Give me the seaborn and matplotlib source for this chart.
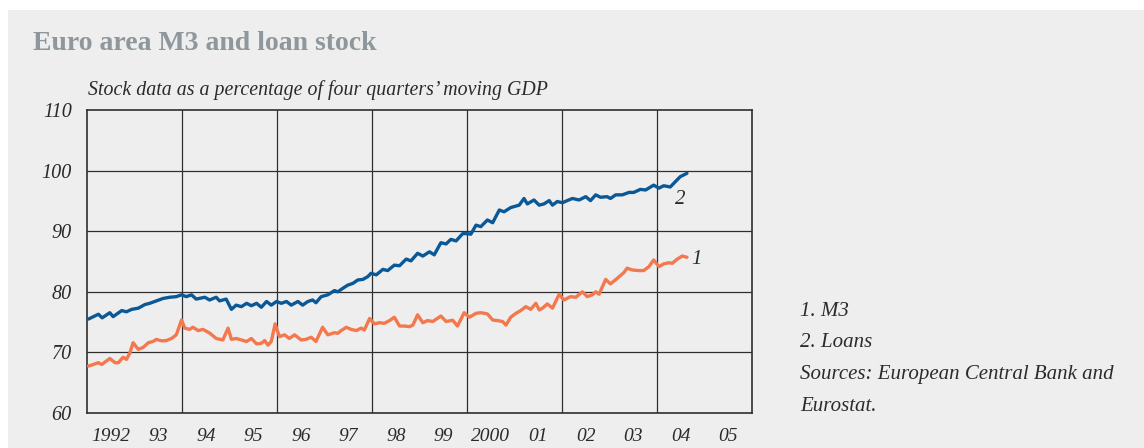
import numpy as np
import pandas as pd
import matplotlib
matplotlib.use("Agg")
import matplotlib.pyplot as plt
import seaborn as sns
from matplotlib.patches import Rectangle

# ---------------- data ----------------
loans_t = [1992.03, 1992.24, 1992.32, 1992.48, 1992.55, 1992.73, 1992.83, 1992.94, 1993.08,
           1993.22, 1993.32, 1993.46, 1993.60, 1993.74, 1993.88, 1993.99, 1994.09, 1994.20,
           1994.30, 1994.48, 1994.58, 1994.72, 1994.79, 1994.93, 1995.04, 1995.14, 1995.25,
           1995.36, 1995.46, 1995.57, 1995.67, 1995.78, 1995.88, 1995.99, 1996.09, 1996.20,
           1996.30, 1996.44, 1996.54, 1996.65, 1996.75, 1996.82, 1996.93, 1997.07, 1997.21,
           1997.28, 1997.39, 1997.49, 1997.60, 1997.70, 1997.81, 1997.91, 1997.98, 1998.09,
           1998.23, 1998.33, 1998.47, 1998.58, 1998.72, 1998.82, 1998.96, 1999.07, 1999.21,
           1999.31, 1999.45, 1999.56, 1999.66, 1999.77, 1999.91, 2000.01, 2000.08, 2000.19,
           2000.29, 2000.43, 2000.54, 2000.68, 2000.78, 2000.92, 2001.03, 2001.10, 2001.20,
           2001.27, 2001.41, 2001.52, 2001.62, 2001.73, 2001.80, 2001.90, 2002.01, 2002.11,
           2002.22, 2002.36, 2002.50, 2002.60, 2002.71, 2002.81, 2002.95, 2003.02, 2003.13,
           2003.27, 2003.41, 2003.51, 2003.65, 2003.76, 2003.93, 2004.04, 2004.14, 2004.28,
           2004.39, 2004.49, 2004.63]
loans_v = [75.5, 76.3, 75.7, 76.55, 75.9, 76.9, 76.7, 77.1, 77.3,
           77.9, 78.1, 78.5, 78.9, 79.1, 79.2, 79.5, 79.2, 79.5,
           78.8, 79.1, 78.65, 79.1, 78.5, 78.8, 77.1, 77.8, 77.55,
           78.1, 77.7, 78.1, 77.45, 78.4, 77.8, 78.4, 78.1, 78.4,
           77.8, 78.4, 77.8, 78.4, 78.65, 78.2, 79.2, 79.5, 80.2,
           80.0, 80.6, 81.1, 81.4, 81.95, 82.05, 82.5, 83.05, 82.8,
           83.7, 83.5, 84.4, 84.3, 85.4, 85.1, 86.35, 85.9, 86.6,
           86.1, 88.1, 87.9, 88.65, 88.4, 89.6, 89.6, 89.5, 91.0,
           90.75, 91.85, 91.4, 93.5, 93.2, 93.9, 94.15, 94.3, 95.4,
           94.5, 95.15, 94.3, 94.5, 95.05, 94.3, 94.9, 94.7, 95.05,
           95.4, 95.15, 95.7, 95.05, 96.0, 95.6, 95.7, 95.4, 96.0,
           96.0, 96.4, 96.4, 96.9, 96.8, 97.6, 97.1, 97.5, 97.3,
           98.2, 99.0, 99.55]

m3_t = [1992.03, 1992.13, 1992.24, 1992.31, 1992.48, 1992.59, 1992.66, 1992.76, 1992.83,
        1992.90, 1992.97, 1993.08, 1993.18, 1993.29, 1993.39, 1993.46, 1993.57, 1993.67,
        1993.78, 1993.88, 1993.99, 1994.06, 1994.16, 1994.23, 1994.34, 1994.44, 1994.58,
        1994.72, 1994.86, 1994.97, 1995.04, 1995.14, 1995.25, 1995.36, 1995.46, 1995.57,
        1995.67, 1995.74, 1995.81, 1995.88, 1995.96, 1996.05, 1996.16, 1996.26, 1996.37,
        1996.51, 1996.61, 1996.72, 1996.82, 1996.96, 1997.07, 1997.21, 1997.28, 1997.35,
        1997.46, 1997.56, 1997.67, 1997.77, 1997.84, 1997.95, 1998.05, 1998.16, 1998.26,
        1998.37, 1998.47, 1998.58, 1998.68, 1998.79, 1998.86, 1998.96, 1999.07, 1999.17,
        1999.28, 1999.45, 1999.56, 1999.70, 1999.80, 1999.94, 2000.05, 2000.19, 2000.29,
        2000.43, 2000.54, 2000.64, 2000.75, 2000.82, 2000.92, 2001.03, 2001.13, 2001.24,
        2001.34, 2001.45, 2001.52, 2001.59, 2001.69, 2001.80, 2001.94, 2002.04, 2002.18,
        2002.29, 2002.43, 2002.53, 2002.64, 2002.71, 2002.78, 2002.92, 2003.02, 2003.16,
        2003.30, 2003.37, 2003.48, 2003.62, 2003.72, 2003.83, 2003.93, 2004.04, 2004.14,
        2004.25, 2004.32, 2004.42, 2004.53, 2004.63]
m3_v = [67.75, 68.0, 68.3, 68.0, 69.0, 68.3, 68.3, 69.2, 68.85,
        69.85, 71.6, 70.5, 70.8, 71.6, 71.8, 72.15, 71.9, 71.95,
        72.3, 72.9, 75.35, 74.0, 73.8, 74.15, 73.6, 73.8, 73.2,
        72.3, 72.05, 74.0, 72.15, 72.3, 72.05, 71.8, 72.3, 71.4,
        71.5, 71.95, 71.2, 71.8, 74.7, 72.6, 72.9, 72.3, 72.9,
        72.05, 72.15, 72.5, 71.8, 74.15, 72.9, 73.25, 73.15, 73.6,
        74.15, 73.8, 73.6, 74.0, 73.7, 75.6, 74.7, 74.9, 74.8,
        75.25, 75.8, 74.35, 74.35, 74.25, 74.5, 76.2, 74.9, 75.25,
        75.1, 76.0, 75.1, 75.3, 74.35, 76.55, 75.8, 76.45, 76.55,
        76.35, 75.35, 75.25, 75.1, 74.5, 75.8, 76.45, 76.9, 77.55,
        77.1, 78.1, 77.0, 77.3, 78.0, 77.3, 79.6, 78.65, 79.2,
        79.1, 80.0, 79.2, 79.5, 80.0, 79.6, 82.05, 81.3, 82.2,
        83.15, 83.9, 83.6, 83.5, 83.5, 84.15, 85.25, 84.15, 84.6,
        84.8, 84.7, 85.35, 85.9, 85.7]

year_labels = ["1992", "93", "94", "95", "96", "97", "98", "99", "2000",
               "01", "02", "03", "04", "05"]
label_years = list(range(1992, 2006))
grid_years = [1994, 1996, 1998, 2000, 2002, 2004]
minor_years = [1993, 1995, 1997, 1999, 2001, 2003, 2005]
y_ticks = [60, 70, 80, 90, 100, 110]

title = "Euro area M3 and loan stock"
subtitle = "Stock data as a percentage of four quarters\u2019 moving GDP"
notes = ["1. M3", "2. Loans", "Sources: European Central Bank and", "Eurostat."]

# ---------------- styling ----------------
sns.set_style("white")
plt.rcParams["font.family"] = ["Liberation Serif", "DejaVu Serif"]

BG = "#EEEEEE"
BLUE = "#0B5896"
ORANGE = "#F4784E"
TXT = "#2B2B2B"

fig = plt.figure(figsize=(11.44, 4.48), dpi=100)
fig.patch.set_facecolor("white")
fig.patches.append(Rectangle((8 / 1144, 0), 1 - 8 / 1144, 1 - 10 / 448,
                             transform=fig.transFigure, facecolor=BG,
                             edgecolor="none", zorder=-10))

ax = fig.add_axes([87 / 1144, 1 - 413 / 448, (752 - 87) / 1144, (413 - 110) / 448])
ax.set_facecolor(BG)

df = pd.concat([
    pd.DataFrame({"t": loans_t, "v": loans_v, "s": "Loans"}),
    pd.DataFrame({"t": m3_t, "v": m3_v, "s": "M3"}),
])
sns.lineplot(data=df, x="t", y="v", hue="s", palette={"Loans": BLUE, "M3": ORANGE},
             linewidth=2.4, ax=ax, legend=False, zorder=3, sort=False)

ax.set_xlim(1992, 2006)
ax.set_ylim(60, 110)
ax.set_xlabel("")
ax.set_ylabel("")

for g in grid_years:
    ax.axvline(g, color="#2F2F2F", lw=0.9, zorder=1)
for yv in y_ticks[1:-1]:
    ax.axhline(yv, color="#2F2F2F", lw=0.9, zorder=1)

ax.set_xticks([y + 0.5 for y in label_years])
ax.set_xticklabels(year_labels, fontsize=14, style="italic", color=TXT)
ax.set_xticks(minor_years, minor=True)
ax.tick_params(axis="x", which="major", length=0, pad=11)
ax.tick_params(axis="x", which="minor", direction="in", length=8, width=0.9, color="#2F2F2F")
ax.set_yticks(y_ticks)
ax.set_yticklabels([str(v) for v in y_ticks], fontsize=14.5, style="italic", color=TXT)
ax.tick_params(axis="y", length=0, pad=11)

for sp in ax.spines.values():
    sp.set_visible(True)
    sp.set_color("#2F2F2F")
    sp.set_linewidth(1.2)

# series labels
ax.text(loans_t[-1] - 0.15, loans_v[-1] - 4.3, "2", fontsize=15, style="italic",
        color=TXT, ha="center", va="center")
ax.text(m3_t[-1] + 0.2, m3_v[-1] - 0.3, "1", fontsize=15, style="italic",
        color=TXT, ha="center", va="center")

fig.text(33 / 1144, 1 - 43 / 448, title, fontsize=20, fontweight="bold",
         color="#8E979B", ha="left", va="center")
fig.text(88 / 1144, 1 - 90 / 448, subtitle, fontsize=14.3, style="italic",
         color=TXT, ha="left", va="center")

for i, n in enumerate(notes):
    fig.text(800 / 1144, 1 - (311 + i * 31.7) / 448, n, fontsize=15, style="italic",
             color=TXT, ha="left", va="center")

fig.savefig("out.png", dpi=100, facecolor=fig.get_facecolor())
